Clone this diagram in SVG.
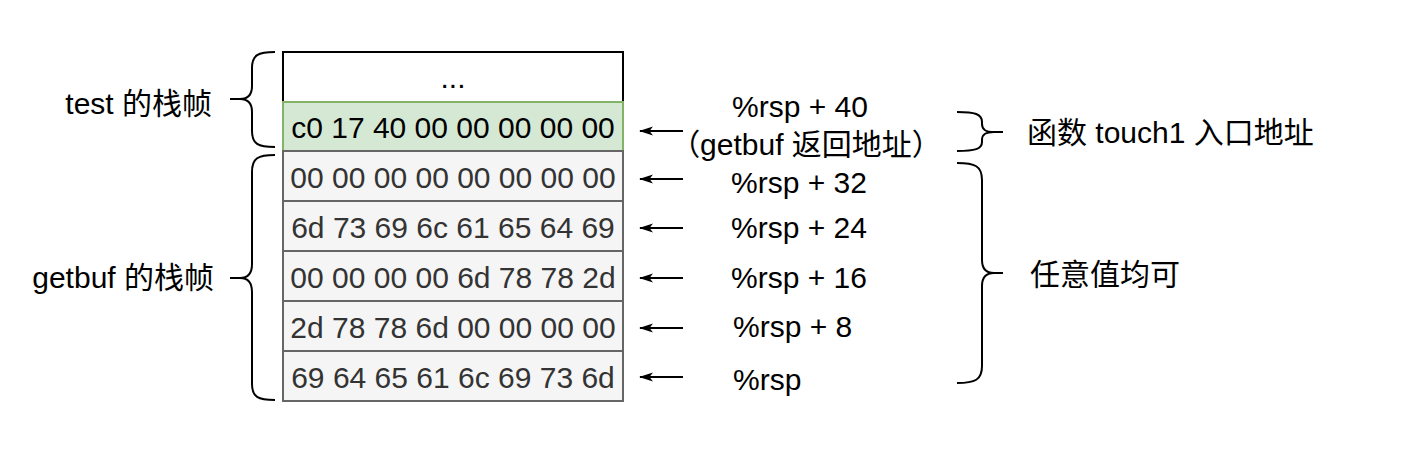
<svg xmlns="http://www.w3.org/2000/svg" width="1403" height="453" viewBox="0 0 1403 453">
<style>
.t{font-family:"Liberation Sans","Noto Sans CJK SC",sans-serif;font-size:30px;fill:#000}
.cell{font-family:"Liberation Sans",sans-serif;font-size:30px;text-anchor:middle}
.g rect{fill:#f5f5f5;stroke:#666666;stroke-width:2}
.g text{fill:#333333}
.br{fill:none;stroke:#000;stroke-width:2}
.ar{stroke:#000;stroke-width:2;fill:none}
</style>
<defs>
<marker id="ah" markerWidth="14" markerHeight="10" refX="13" refY="5" orient="auto" markerUnits="userSpaceOnUse" viewBox="0 0 14 10">
<path d="M14,5 L0,0.5 L3.5,5 L0,9.5 Z" fill="#000"/>
</marker>
</defs>
<rect width="1403" height="453" fill="#fff"/>
<g id="cell-dots"><rect x="283" y="52" width="340" height="50" fill="#fff" stroke="#000" stroke-width="2"/><text class="cell" x="453" y="88">...</text></g>
<g id="cell-ret"><rect x="283" y="102" width="340" height="49" fill="#d5e8d4" stroke="#82b366" stroke-width="2"/><text class="cell" x="453" y="138">c0 17 40 00 00 00 00 00</text></g>
<g id="cell-32" class="g"><rect x="283" y="151" width="340" height="50"/><text class="cell" x="453" y="188">00 00 00 00 00 00 00 00</text></g>
<g id="cell-24" class="g"><rect x="283" y="201" width="340" height="50"/><text class="cell" x="453" y="238">6d 73 69 6c 61 65 64 69</text></g>
<g id="cell-16" class="g"><rect x="283" y="251" width="340" height="50"/><text class="cell" x="453" y="288">00 00 00 00 6d 78 78 2d</text></g>
<g id="cell-8" class="g"><rect x="283" y="301" width="340" height="50"/><text class="cell" x="453" y="338">2d 78 78 6d 00 00 00 00</text></g>
<g id="cell-0" class="g"><rect x="283" y="351" width="340" height="50"/><text class="cell" x="453" y="388">69 64 65 61 6c 69 73 6d</text></g>

<g id="brace-test"><path class="br" d="M275,52 C258,52 252,55 252,68 L252,86 C252,95 248,99 240,99 L230,99 M240,99 C248,99 252,103 252,112 L252,131 C252,144 258,147 275,147"/></g>
<g id="brace-getbuf"><path class="br" d="M275,155 C258,155 252,158 252,172 L252,264 C252,274 248,278 240,278 L230,278 M240,278 C248,278 252,282 252,292 L252,384 C252,397 258,400 275,400"/></g>
<g id="brace-touch"><path class="br" d="M957,112 C975,112 982,114 982,122 L982,124 C982,130 986,132 994,132 L1003,132 M994,132 C986,132 982,134 982,140 L982,142 C982,149 975,151 957,151"/></g>
<g id="brace-any"><path class="br" d="M957,163 C975,163 982,166 982,180 L982,260 C982,269 986,273 994,273 L1003,273 M994,273 C986,273 982,277 982,286 L982,366 C982,380 975,383 957,383"/></g>

<g id="label-test"><text class="t" x="212" y="114" text-anchor="end">test 的栈帧</text></g>
<g id="label-getbuf"><text class="t" x="214" y="288" text-anchor="end">getbuf 的栈帧</text></g>
<g id="label-touch"><text class="t" x="1027" y="143">函数 touch1 入口地址</text></g>
<g id="label-any"><text class="t" x="1030" y="285">任意值均可</text></g>

<g id="label-rsp40"><text class="t" x="800" y="117" text-anchor="middle">%rsp + 40</text><text class="t" x="806" y="155" text-anchor="middle">（getbuf 返回地址）</text></g>
<g id="label-rsp32"><text class="t" x="731" y="193">%rsp + 32</text></g>
<g id="label-rsp24"><text class="t" x="731" y="238">%rsp + 24</text></g>
<g id="label-rsp16"><text class="t" x="731" y="288">%rsp + 16</text></g>
<g id="label-rsp8"><text class="t" x="733" y="337">%rsp + 8</text></g>
<g id="label-rsp"><text class="t" x="733" y="390">%rsp</text></g>

<g id="connectors">
<line class="ar" x1="683" y1="131" x2="640" y2="131" marker-end="url(#ah)"/>
<line class="ar" x1="683" y1="179" x2="640" y2="179" marker-end="url(#ah)"/>
<line class="ar" x1="683" y1="228" x2="640" y2="228" marker-end="url(#ah)"/>
<line class="ar" x1="683" y1="278" x2="640" y2="278" marker-end="url(#ah)"/>
<line class="ar" x1="683" y1="328" x2="640" y2="328" marker-end="url(#ah)"/>
<line class="ar" x1="683" y1="377" x2="640" y2="377" marker-end="url(#ah)"/>
</g>
</svg>
